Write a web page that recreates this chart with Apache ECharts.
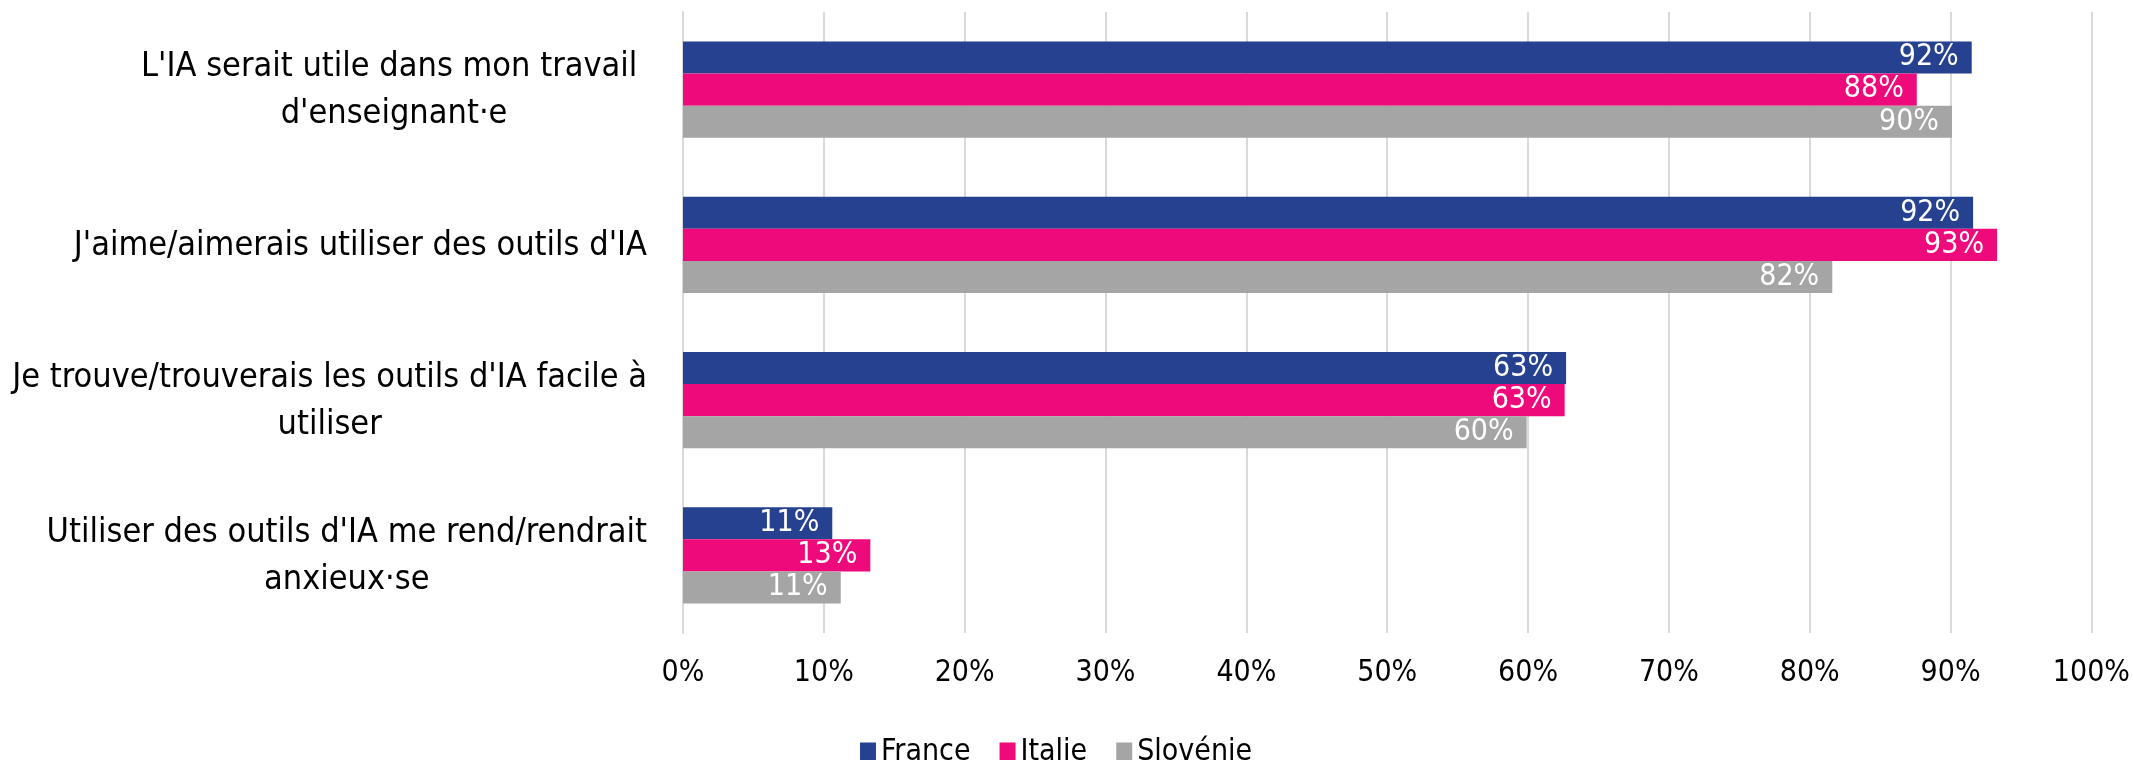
<!DOCTYPE html>
<html>
<head>
<meta charset="utf-8">
<script src="https://cdn.jsdelivr.net/npm/echarts@6/dist/echarts.min.js"></script>
<style>
  html, body { margin: 0; padding: 0; background: #fff; }
  #main { width: 2133px; height: 760px; }
</style>
</head>
<body>
<div id="main"></div>
<script>
const categories = [
    "L'IA serait utile dans mon travail \nd'enseignant·e",
    "J'aime/aimerais utiliser des outils d'IA",
    "Je trouve/trouverais les outils d'IA facile à\nutiliser",
    "Utiliser des outils d'IA me rend/rendrait\nanxieux·se"
]
const france = [91.5, 91.6, 62.7, 10.6]
const italie = [87.6, 93.3, 62.6, 13.3]
const slovenie = [90.1, 81.6, 59.9, 11.2]
const xTicks = [0, 10, 20, 30, 40, 50, 60, 70, 80, 90, 100]

const font = "'Liberation Sans Narrow', 'DejaVu Sans Condensed', sans-serif"

function bars(dom){
    const myChart = echarts.init(dom);
    const makeSeries = (name, data, color) => ({
        name: name,
        type: 'bar',
        data: data,
        barGap: '0%',
        barCategoryGap: '38%',
        itemStyle: { color: color },
        label: {
            show: true,
            position: 'insideRight',
            distance: 13,
            color: '#fff',
            fontFamily: font,
            fontSize: 30,
            formatter: (p) => Math.round(p.value) + '%'
        },
        animation: false
    })
    const option = {
        backgroundColor: '#fff',
        textStyle: { fontFamily: font },
        grid: {
            left: 683,
            right: 39,
            top: 12,
            bottom: 127
        },
        legend: {
            left: 855,
            top: 732,
            itemWidth: 16,
            itemHeight: 19,
            itemGap: 29,
            icon: 'rect',
            textStyle: { fontFamily: font, fontSize: 30, color: '#000' },
            data: ['France', 'Italie', 'Slovénie']
        },
        xAxis: {
            type: 'value',
            min: xTicks[0],
            max: xTicks[xTicks.length - 1],
            interval: 10,
            axisLine: { show: false },
            axisTick: { show: false },
            axisLabel: {
                margin: 25,
                fontFamily: font,
                fontSize: 30,
                color: '#000',
                formatter: '{value}%'
            },
            splitLine: { lineStyle: { color: '#D9D9D9', width: 2 } }
        },
        yAxis: {
            type: 'category',
            inverse: true,
            data: categories,
            axisLine: { show: true, lineStyle: { color: '#D9D9D9', width: 2 } },
            axisTick: { show: false },
            axisLabel: {
                margin: 36,
                formatter: (v) => v.split('\n').map(l => '{c|' + l + '}').join('\n'),
                rich: {
                    c: { align: 'center', fontFamily: font, fontSize: 34, lineHeight: 47, color: '#000', padding: [3, 0, 0, 0] }
                }
            }
        },
        series: [
            makeSeries('France', france, '#25418F'),
            makeSeries('Italie', italie, '#EE0A7B'),
            makeSeries('Slovénie', slovenie, '#A5A5A5')
        ]
    };
    myChart.setOption(option);
    return myChart
}

bars(document.getElementById('main'))
</script>
</body>
</html>
